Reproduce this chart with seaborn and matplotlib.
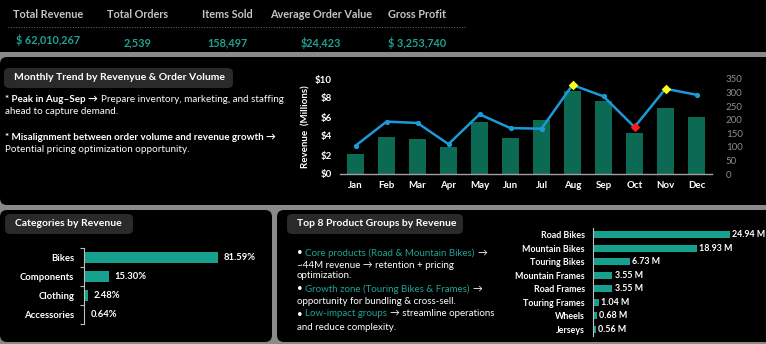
import numpy as np
import seaborn as sns
import matplotlib.pyplot as plt
from matplotlib.patches import FancyBboxPatch

# KPI strip
kpi_titles = ["Total Revenue", "Total Orders", "Items Sold", "Average Order Value", "Gross Profit"]
kpi_values = ["$ 62,010,267", "2,539", "158,497", "$24,423", "$ 3,253,740"]

# Monthly trend
months = ["Jan", "Feb", "Mar", "Apr", "May", "Jun", "Jul", "Aug", "Sep", "Oct", "Nov", "Dec"]
revenue_m = [2.10, 3.93, 3.72, 2.88, 5.51, 3.79, 5.68, 8.70, 7.72, 4.35, 6.95, 6.04]
orders = [104, 193, 188, 110, 220, 169, 167, 328, 286, 173, 314, 292]
peak_months = ["Aug", "Nov"]
low_months = ["Oct"]

# Categories
categories = ["Bikes", "Components", "Clothing", "Accessories"]
category_share = [81.59, 15.30, 2.48, 0.64]

# Top 8 product groups
products = ["Road Bikes", "Mountain Bikes", "Touring Bikes", "Mountain Frames",
            "Road Frames", "Touring Frames", "Wheels", "Jerseys"]
product_revenue_m = [24.94, 18.93, 6.73, 3.55, 3.55, 1.04, 0.68, 0.56]

GRAY = "#8a8a8a"
BOX = "#2a2a2a"
TEAL = "#17a08e"
TEAL_TXT = "#1fa397"
GREEN = "#0c6a54"
BLUE = "#1b9ad8"

sns.set_theme(style="white")
plt.rcParams["font.family"] = ["Lato", "DejaVu Sans"]

W, H = 766, 344
fig = plt.figure(figsize=(W / 100, H / 100), dpi=100)
fig.patch.set_facecolor(GRAY)

# background canvas in pixel coordinates
bg = fig.add_axes([0, 0, 1, 1])
bg.set_xlim(0, W)
bg.set_ylim(H, 0)
bg.axis("off")


def panel(x0, y0, x1, y1, color="black", r=7):
    bg.add_patch(FancyBboxPatch((x0, y0), x1 - x0, y1 - y0,
                                boxstyle=f"round,pad=0,rounding_size={r}",
                                fc=color, ec="none"))


def px_axes(x0, y0, x1, y1):
    ax = fig.add_axes([x0 / W, 1 - y1 / H, (x1 - x0) / W, (y1 - y0) / H])
    ax.patch.set_visible(False)
    return ax


def rich(x, y, parts, size=7.1):
    prev = None
    for txt, color, weight in parts:
        if prev is None:
            prev = bg.text(x, y, txt, color=color, fontweight=weight, fontsize=size,
                           va="center", ha="left")
        else:
            prev = bg.annotate(txt, xy=(1, 0), xycoords=prev, xytext=(size * 0.27, 0),
                               textcoords="offset points", va="bottom", ha="left",
                               color=color, fontweight=weight, fontsize=size)


def title_box(x0, y0, x1, y1, text, size=7.5):
    panel(x0, y0, x1, y1, color=BOX, r=5)
    bg.text(x0 + 10, (y0 + y1) / 2, text, color="white", fontweight="bold",
            fontsize=size, va="center", ha="left")


# panels
panel(-10, -10, 776, 52)
panel(0, 57, 776, 205)
panel(0, 210, 272, 342)
panel(277, 210, 776, 342)

# KPI strip
kpi_x = [48, 138, 227, 321, 417]
kpi_vy = [40, 43, 43, 43, 43]
for x, t, v, vy in zip(kpi_x, kpi_titles, kpi_values, kpi_vy):
    bg.text(x, 14, t, color="#c4c4c4", fontweight="bold", fontsize=7.8, ha="center", va="center")
    bg.text(x, vy, v, color=TEAL_TXT, fontweight="bold", fontsize=7.8, ha="center", va="center")
bg.plot([8, 466], [27, 27], color="#6e6e6e", lw=0.7, ls=":")

# monthly trend notes
title_box(4, 68, 233, 88, "Monthly Trend by Revenyue & Order Volume")
rich(5, 100, [("* Peak in Aug\u2013Sep \u2192", "white", "bold"),
              ("Prepare inventory, marketing, and staffing", "white", "normal")])
rich(5, 112, [("ahead to capture demand.", "white", "normal")])
rich(5, 137, [("* Misalignment between order volume and revenue growth \u2192", "white", "bold")])
rich(5, 149, [("Potential pricing optimization opportunity.", "white", "normal")])

# monthly combo chart
ax = px_axes(340, 79, 712, 174)
sns.barplot(x=months, y=revenue_m, color=GREEN, saturation=1, width=0.58,
            edgecolor="none", linewidth=0, ax=ax)
ax.set_xlim(-0.5, 11.5)
ax.set_ylim(0, 10)
yt = list(range(0, 11, 2))
ax.set_yticks(yt, labels=[f"${t}" for t in yt])
ax.tick_params(axis="y", length=0, pad=6, labelsize=7, labelcolor="white")
ax.tick_params(axis="x", length=0, pad=5, labelsize=7, labelcolor="white")
for lbl in ax.get_xticklabels() + ax.get_yticklabels():
    lbl.set_fontweight("bold")
ax.set_xlabel("")
ax.set_ylabel("Revenue  (Millions)", color="white", fontsize=7, fontweight="bold", labelpad=3)
for s in ["top", "right", "left"]:
    ax.spines[s].set_visible(False)
ax.spines["bottom"].set_color("#a0a0a0")
ax.spines["bottom"].set_linewidth(1)

ax2 = ax.twinx()
ax2.patch.set_visible(False)
xpos = np.arange(len(months))
sns.lineplot(x=xpos, y=orders, ax=ax2, color=BLUE, lw=1.8, marker="o", ms=3,
             mec=BLUE, mfc=BLUE)
hi = [months.index(m) for m in peak_months]
lo = [months.index(m) for m in low_months]
ax2.scatter(hi, [orders[i] for i in hi], marker="D", s=24, color="#ffff1a", zorder=5, lw=0)
ax2.scatter(lo, [orders[i] for i in lo], marker="D", s=24, color="#ff1a1a", zorder=5, lw=0)
ax2.set_ylim(0, 350)
ax2.set_yticks(range(0, 351, 50))
ax2.tick_params(axis="y", length=0, pad=10, labelsize=7, labelcolor="#8c8c8c")
for s in ax2.spines.values():
    s.set_visible(False)
ax2.set_ylabel("")
ax2.grid(False)
ax.grid(False)

# categories by revenue
title_box(5, 214, 133, 234, "Categories by Revenue")
axc = px_axes(84, 248, 248, 324)
sns.barplot(x=category_share, y=categories, orient="h", color=TEAL, saturation=1,
            width=0.6, edgecolor="none", linewidth=0, ax=axc)
axc.set_xlim(0, 100)
axc.set_ylim(len(categories) - 0.5, -0.5)
axc.bar_label(axc.containers[0], labels=[f"{v:.2f}%" for v in category_share],
              padding=4, color="white", fontsize=6.8, fontweight="bold")
axc.set_yticks(np.arange(len(categories) + 1) - 0.5, labels=[""] * (len(categories) + 1))
axc.set_yticks(np.arange(len(categories)), labels=categories, minor=True)
axc.tick_params(axis="y", which="major", length=3, width=0.8, color="#bfbfbf", left=True)
axc.tick_params(axis="y", which="minor", length=0, pad=7, labelsize=6.8, labelcolor="white")
for lbl in axc.get_yticklabels(minor=True):
    lbl.set_fontweight("bold")
axc.set_xticks([])
axc.set_xlabel("")
axc.set_ylabel("")
for s in ["top", "right", "bottom"]:
    axc.spines[s].set_visible(False)
axc.spines["left"].set_color("#bfbfbf")
axc.spines["left"].set_linewidth(0.8)

# top 8 product groups
title_box(287, 214, 463, 234, "Top 8 Product Groups by Revenue")
rich(297, 253, [("\u2022", "white", "normal"),
                ("Core products (Road & Mountain Bikes)", TEAL_TXT, "normal"),
                ("\u2192", "white", "normal")], size=7)
rich(297, 266, [("~44M revenue \u2192 retention + pricing", "white", "normal")], size=7)
rich(297, 276, [("optimization.", "white", "normal")], size=7)
rich(297, 289, [("\u2022", "white", "normal"),
                ("Growth zone (Touring Bikes & Frames)", TEAL_TXT, "normal"),
                ("\u2192", "white", "normal")], size=7)
rich(297, 302, [("opportunity for bundling & cross-sell.", "white", "normal")], size=7)
rich(297, 314, [("\u2022", "white", "normal"),
                ("Low-impact groups", TEAL_TXT, "normal"),
                ("\u2192 streamline operations", "white", "normal")], size=7)
rich(297, 328, [("and reduce complexity.", "white", "normal")], size=7)

axp = px_axes(593, 228, 745, 336)
sns.barplot(x=product_revenue_m, y=products, orient="h", color=TEAL, saturation=1,
            width=0.55, edgecolor="none", linewidth=0, ax=axp)
axp.set_xlim(0, 27.7)
axp.set_ylim(len(products) - 0.5, -0.5)
axp.bar_label(axp.containers[0], labels=[f"{v:.2f} M" for v in product_revenue_m],
              padding=1.5, color="white", fontsize=6.4, fontweight="bold")
axp.tick_params(axis="y", length=0, pad=6, labelsize=6.4, labelcolor="white")
for lbl in axp.get_yticklabels():
    lbl.set_fontweight("bold")
axp.set_xticks([])
axp.set_xlabel("")
axp.set_ylabel("")
for s in ["top", "right", "bottom"]:
    axp.spines[s].set_visible(False)
axp.spines["left"].set_color("#bfbfbf")
axp.spines["left"].set_linewidth(0.8)

fig.savefig("out.png", dpi=100, facecolor=fig.get_facecolor())
